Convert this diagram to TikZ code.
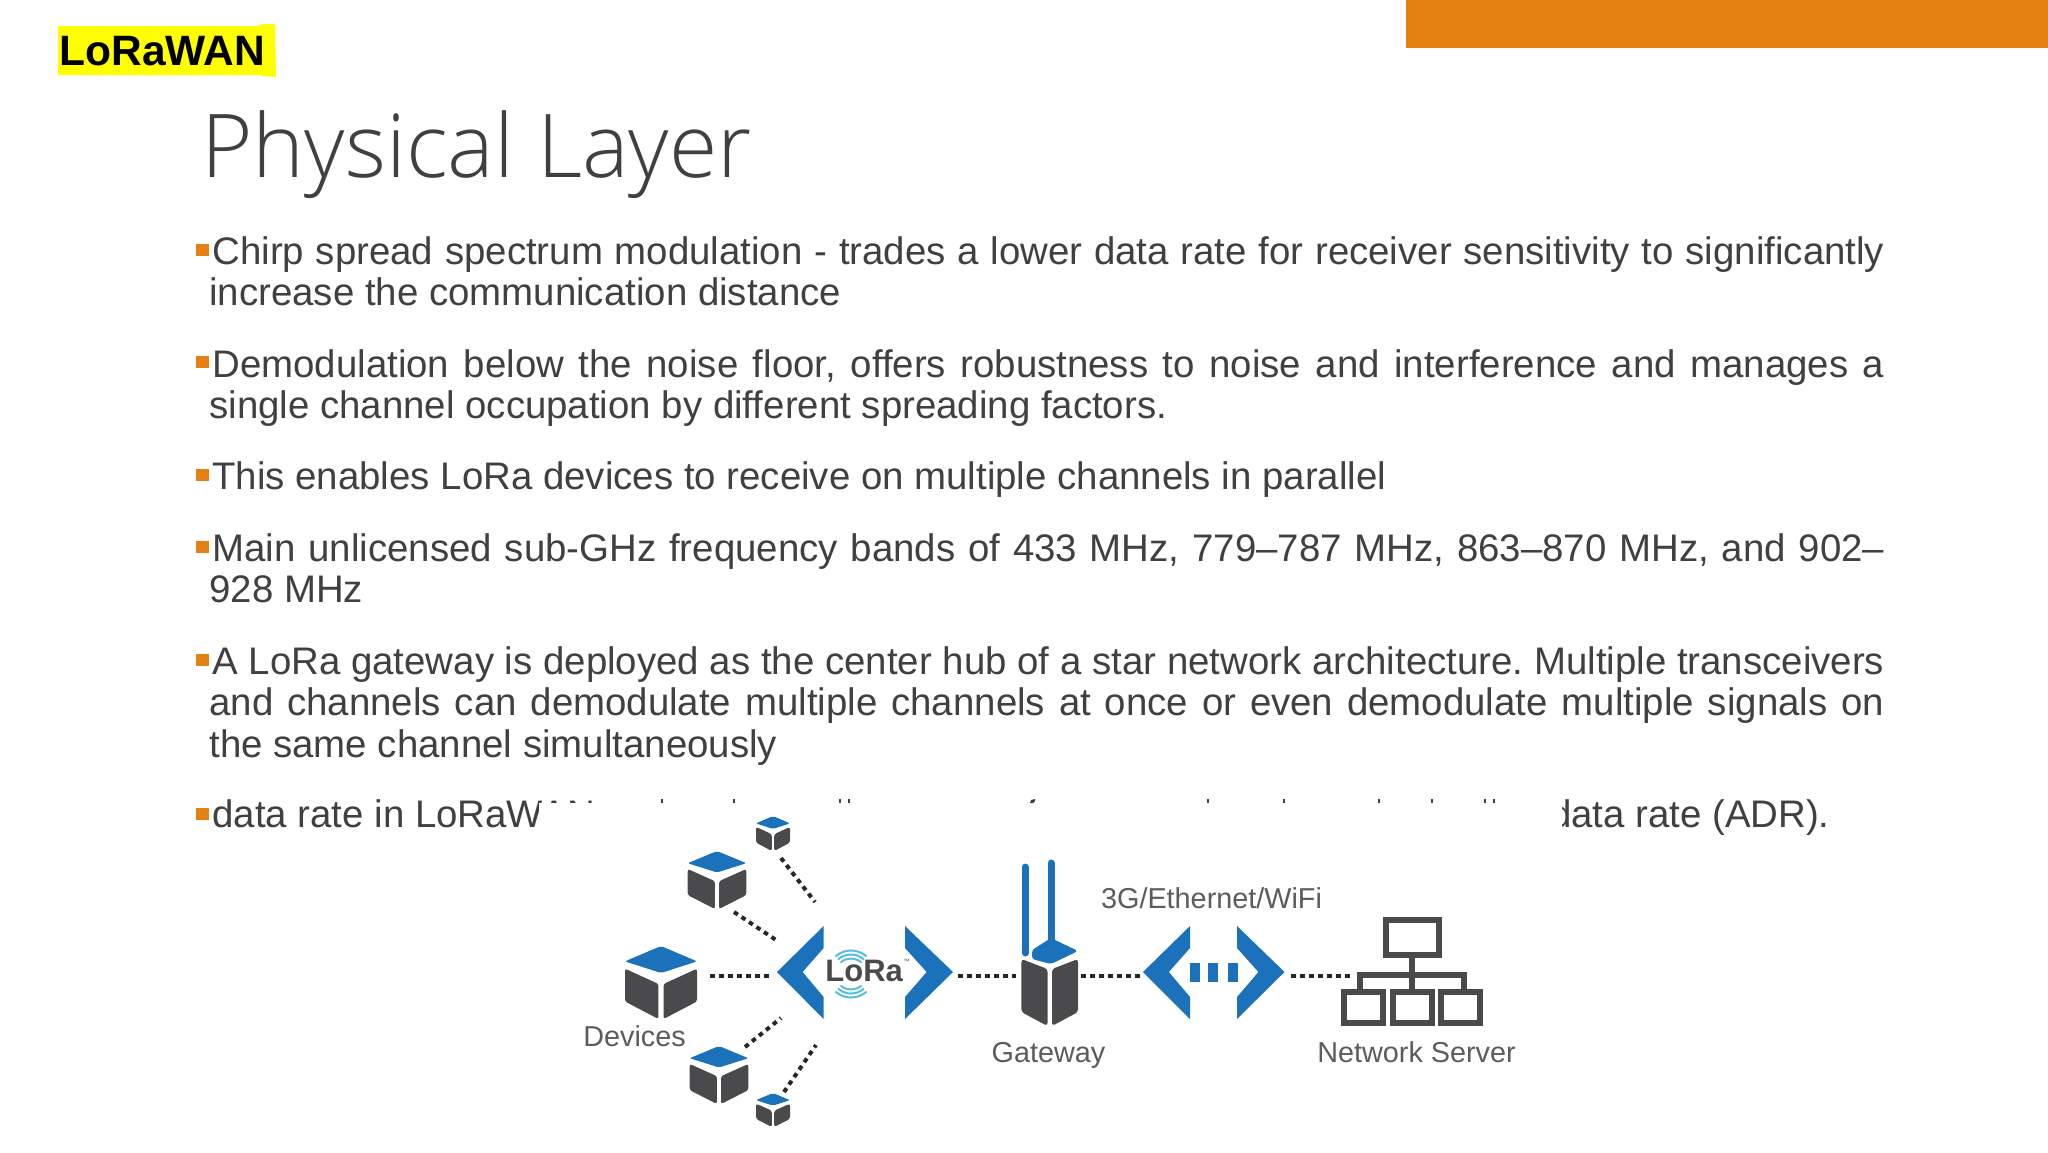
\documentclass[tikz,border=0pt]{standalone}
\usepackage{fontspec}
\setmainfont{Liberation Sans}
\newfontfamily\titlefont{Open Sans Light}
\frenchspacing
\definecolor{txt}{HTML}{404040}
\definecolor{orangebar}{HTML}{E38212}
\definecolor{markyellow}{rgb}{1,1,0}
\definecolor{iconblue}{HTML}{1B72BA}
\definecolor{icongray}{HTML}{4A4A4C}
\definecolor{labelgray}{HTML}{5C5C5C}
\definecolor{wavecyan}{HTML}{55BCE4}
\definecolor{dotgray}{HTML}{262626}
\newcommand{\pxf}[1]{\fontsize{\fpeval{#1*0.5}}{\fpeval{#1*0.6}}\selectfont}
\tikzset{
  bodytext/.style={anchor=base west,inner sep=0pt,text=txt,font=\pxf{38.4}},
  bulletbox/.style={fill=orangebar,draw=none},
  dotline/.style={draw=dotgray,line width=2pt,dash pattern=on 2.3pt off 2.2pt},
  caplabel/.style={anchor=base,inner sep=0pt,text=labelgray,font=\pxf{28.8}},
  blueshape/.style={fill=iconblue,draw=none},
  grayshape/.style={fill=icongray,draw=none},
  framebox/.style={draw=icongray,line width=3pt,fill=white},
  wire/.style={draw=icongray,line width=3pt},
  wavearc/.style={draw=wavecyan,line width=1pt,line cap=round},
  tickmark/.style={fill=txt,draw=none}
}
\newcommand{\devcube}[4]{%
  \begin{scope}[shift={(#1,#2)},x=#3*0.5pt,y=-#4*0.5pt]
    \fill[blueshape,rounded corners=1pt] (0,0) -- (.5,.21) -- (0,.37) -- (-.5,.21) -- cycle;
    \fill[grayshape,rounded corners=1.2pt] (-.5,.31) -- (-.035,.52) -- (-.035,1) -- (-.5,.76) -- cycle;
    \fill[grayshape,rounded corners=1.2pt] (.5,.31) -- (.035,.52) -- (.035,1) -- (.5,.76) -- cycle;
  \end{scope}}
\newcommand{\chevL}[2]{\fill[blueshape] (#1,926) -- (#2,972) -- (#1,1019) -- (#1,997) -- ({#2+(#1-#2)*0.55},972) -- (#1,948) -- cycle;}
\newcommand{\chevR}[2]{\chevL{#1}{#2}}
\begin{document}
\begin{tikzpicture}[x=0.5pt,y=-0.5pt]
\useasboundingbox (0,0) rectangle (2048,1152);
\fill[white] (0,0) rectangle (2048,1152);
% header
\fill[orangebar] (1406,0) rectangle (2048,48);
\fill[markyellow] (58,26) -- (258,26) -- (262,24) -- (275,24) -- (276,77) -- (262,76) -- (260,75) -- (58,75) -- cycle;
\node[anchor=base west,inner sep=0pt,text=black,font=\pxf{42.5}\bfseries] (tag) at (59,65) {LoRaWAN};
\node[anchor=base west,inner sep=0pt,text=txt,font=\titlefont\pxf{88}] (title) at (201,177) {Physical Layer};
% body text
\newcommand{\jline}[4]{\node[bodytext] (#1) at (#2,#3) {\makebox[\fpeval{(1884-#2)*0.5}pt][s]{#4}};}
\newcommand{\pline}[4]{\node[bodytext] (#1) at (#2,#3) {#4};}
\newcommand{\sq}[1]{\fill[bulletbox] (196,#1) rectangle +(13,-12);}
\sq{256}\jline{l1}{212}{264}{Chirp spread spectrum modulation - trades a lower data rate for receiver sensitivity to significantly}
\pline{l2}{209}{305.5}{increase the communication distance}
\sq{368}\jline{l3}{212}{377}{Demodulation below the noise floor, offers robustness to noise and interference and manages a}
\pline{l4}{209}{418.5}{single channel occupation by different spreading factors.}
\sq{481}\pline{l5}{212}{489}{This enables LoRa devices to receive on multiple channels in parallel}
\sq{553}\jline{l6}{212}{561}{Main unlicensed sub-GHz frequency bands of 433 MHz, 779–787 MHz, 863–870 MHz, and 902–}
\pline{l7}{209}{602.5}{928 MHz}
\sq{666}\jline{l8}{212}{674}{A LoRa gateway is deployed as the center hub of a star network architecture. Multiple transceivers}
\jline{l9}{209}{715.5}{and channels can demodulate multiple channels at once or even demodulate multiple signals on}
\pline{l10}{209}{757}{the same channel simultaneously}
\sq{820}\pline{l11}{212}{827}{data rate in LoRaWAN}
\node[bodytext,anchor=base east] (l12) at (1830,827) {data rate (ADR).};
% picture area hides the rest of the last line
\fill[white] (539,803) rectangle (1562,1152);
\foreach \x in {662,734,840,849,1208,1284,1379,1432,1485,1494} \fill[tickmark] (\x-1.3,799) rectangle (\x+1.3,803);
\fill[tickmark] (1030,803) -- (1031,800) -- (1035,799) -- (1035,801) -- (1033,803) -- cycle;
% devices
\devcube{661}{946}{72}{73}
\devcube{717}{851}{58.6}{58}
\devcube{773}{816}{34}{35}
\devcube{719}{1046}{58.6}{58}
\devcube{773}{1093}{34}{34}
% connector ends
\coordinate (a1) at (781,858); \coordinate (b1) at (815,902);
\coordinate (a2) at (734,912); \coordinate (b2) at (776,940);
\coordinate (a3) at (710,976); \coordinate (b3) at (769,976);
\coordinate (a4) at (745,1047); \coordinate (b4) at (781,1018);
\coordinate (a5) at (784,1092); \coordinate (b5) at (816,1045);
\coordinate (a6) at (958,976); \coordinate (b6) at (1016,976);
\coordinate (a7) at (1081,976); \coordinate (b7) at (1140,976);
\coordinate (a8) at (1291,976); \coordinate (b8) at (1350,976);
\foreach \i in {1,...,8} \draw[dotline] (a\i) -- (b\i);
% LoRa chevrons and label
\chevL{823.6}{777}
\chevR{905}{953}
\foreach \r in {15.5,19.5,23.5} {
  \draw[wavearc] (851,974) ++(230:\r) arc[start angle=230,end angle=310,radius=\r];
  \draw[wavearc] (851,974) ++(50:\r) arc[start angle=50,end angle=130,radius=\r];
}
\node[anchor=base west,inner sep=0pt,text=icongray,font=\pxf{31}\bfseries] (lora) at (825,981.7) {LoRa};
\node[anchor=base west,inner sep=0pt,text=icongray,font=\pxf{6}] (tm) at (lora.base east) [yshift=9pt] {™};
% gateway
\draw[iconblue,line width=3.5pt,line cap=round] (1025,867) -- (1025,953);
\draw[iconblue,line width=3.5pt,line cap=round] (1051,863) -- (1051,945);
\fill[blueshape,rounded corners=1.5pt] (1032,950) -- (1051,938) -- (1078,951) -- (1051,964) -- (1032,959) -- cycle;
\fill[grayshape,rounded corners=1.5pt] (1021.4,959) -- (1047.5,969) -- (1047.5,1026) -- (1021.4,1012) -- cycle;
\fill[grayshape,rounded corners=1.5pt] (1078,959) -- (1052,969) -- (1052,1026) -- (1078,1012) -- cycle;
% backhaul chevrons
\chevL{1190}{1143}
\chevR{1237}{1284.5}
\fill[blueshape] (1189.6,962.7) rectangle (1200,982);
\fill[blueshape] (1208,962.7) rectangle (1218,982);
\fill[blueshape] (1228,962.7) rectangle (1238,982);
% network server
\draw[wire] (1412,958) -- (1412,990);
\draw[wire] (1360,990) -- (1360,975) -- (1464,975) -- (1464,990);
\node[framebox,minimum width=26.5pt,minimum height=17.5pt,inner sep=0pt] (srv) at (1412.25,937.5) {};
\node[framebox,minimum width=19.5pt,minimum height=15.5pt,inner sep=0pt] (n1) at (1363.5,1007.5) {};
\node[framebox,minimum width=19.5pt,minimum height=15.5pt,inner sep=0pt] (n2) at (1412,1007.5) {};
\node[framebox,minimum width=19.5pt,minimum height=15.5pt,inner sep=0pt] (n3) at (1460.75,1007.5) {};
% labels
\node[caplabel] (dev) at (634.5,1046) {Devices};
\node[caplabel] (gw) at (1048.5,1062) {Gateway};
\node[caplabel] (ns) at (1416.5,1062) {Network Server};
\node[caplabel] (via) at (1211.5,908) {3G/Ethernet/WiFi};
\end{tikzpicture}
\end{document}
